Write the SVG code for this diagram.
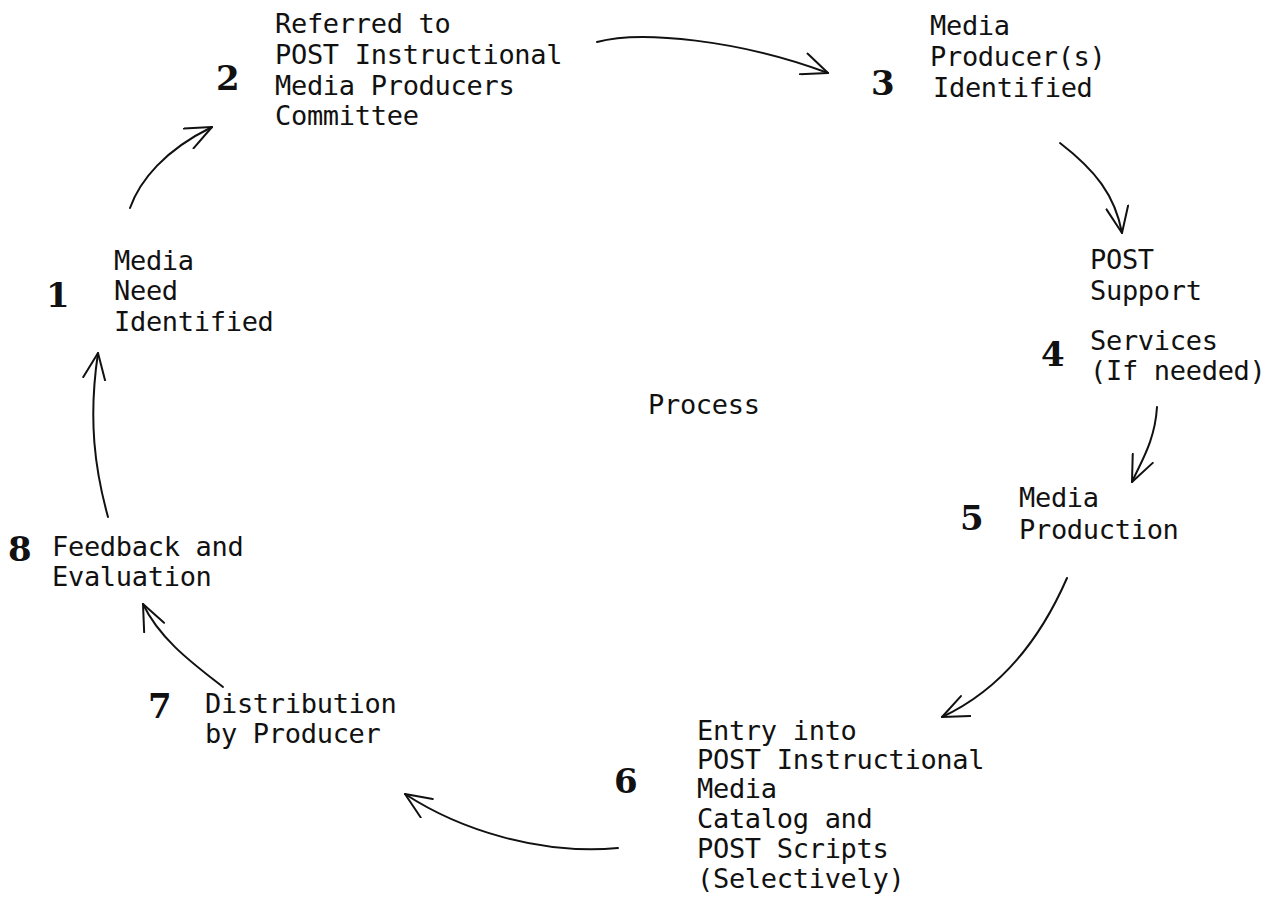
<svg xmlns="http://www.w3.org/2000/svg" width="1287" height="909" viewBox="0 0 1287 909">
<style>
.t{font-family:"DejaVu Sans Mono","Liberation Mono",monospace;font-size:27px;letter-spacing:-0.3px;fill:#111}
.n{font-family:"DejaVu Serif","Liberation Serif",serif;font-weight:bold;font-size:34px;fill:#111}
.c{fill:none;stroke:#111;stroke-width:2;stroke-linecap:round}
</style>
<defs>
<marker id="ah" viewBox="0 0 28 24" refX="27" refY="12" markerWidth="28" markerHeight="24" markerUnits="userSpaceOnUse" orient="auto">
<path d="M1,1 L27,12 L1,23" fill="none" stroke="#111" stroke-width="2" stroke-linecap="round" stroke-linejoin="round"/>
</marker>
</defs>
<rect width="1287" height="909" fill="#fff"/>
<g id="connectors">
<path class="c" marker-end="url(#ah)" d="M130,208 C140,180 165,150 212,127"/>
<path class="c" marker-end="url(#ah)" d="M597,42 C640,30 740,40 828,73"/>
<path class="c" marker-end="url(#ah)" d="M1060,143 C1095,170 1115,195 1122,233"/>
<path class="c" marker-end="url(#ah)" d="M1157,407 C1155,440 1142,460 1132,482"/>
<path class="c" marker-end="url(#ah)" d="M1067,578 C1040,640 1000,690 942,717"/>
<path class="c" marker-end="url(#ah)" d="M618,848 C540,855 460,830 405,794"/>
<path class="c" marker-end="url(#ah)" d="M223,687 C195,665 160,640 143,604"/>
<path class="c" marker-end="url(#ah)" d="M108,517 C95,470 88,420 98,353"/>
</g>
<g id="node1">
<text class="n" x="46" y="307">1</text>
<text class="t" x="114" y="270">Media</text>
<text class="t" x="114" y="300">Need</text>
<text class="t" x="114" y="331">Identified</text>
</g>
<g id="node2">
<text class="n" x="216" y="90">2</text>
<text class="t" x="275" y="33">Referred to</text>
<text class="t" x="275" y="64">POST Instructional</text>
<text class="t" x="275" y="95">Media Producers</text>
<text class="t" x="275" y="125">Committee</text>
</g>
<g id="node3">
<text class="n" x="871" y="95">3</text>
<text class="t" x="930" y="35">Media</text>
<text class="t" x="930" y="66">Producer(s)</text>
<text class="t" x="933" y="97">Identified</text>
</g>
<g id="node4">
<text class="n" x="1041" y="366">4</text>
<text class="t" x="1090" y="269">POST</text>
<text class="t" x="1090" y="300">Support</text>
<text class="t" x="1090" y="350">Services</text>
<text class="t" x="1090" y="380">(If needed)</text>
</g>
<g id="node5">
<text class="n" x="960" y="530">5</text>
<text class="t" x="1019" y="507">Media</text>
<text class="t" x="1019" y="539">Production</text>
</g>
<g id="node6">
<text class="n" x="614" y="793">6</text>
<text class="t" x="697" y="740">Entry into</text>
<text class="t" x="697" y="769">POST Instructional</text>
<text class="t" x="697" y="798">Media</text>
<text class="t" x="697" y="828">Catalog and</text>
<text class="t" x="697" y="858">POST Scripts</text>
<text class="t" x="697" y="888">(Selectively)</text>
</g>
<g id="node7">
<text class="n" x="148" y="718">7</text>
<text class="t" x="205" y="713">Distribution</text>
<text class="t" x="205" y="743">by Producer</text>
</g>
<g id="node8">
<text class="n" x="8" y="561">8</text>
<text class="t" x="52" y="556">Feedback and</text>
<text class="t" x="52" y="586">Evaluation</text>
</g>
<g id="label">
<text class="t" x="648" y="414">Process</text>
</g>
</svg>
